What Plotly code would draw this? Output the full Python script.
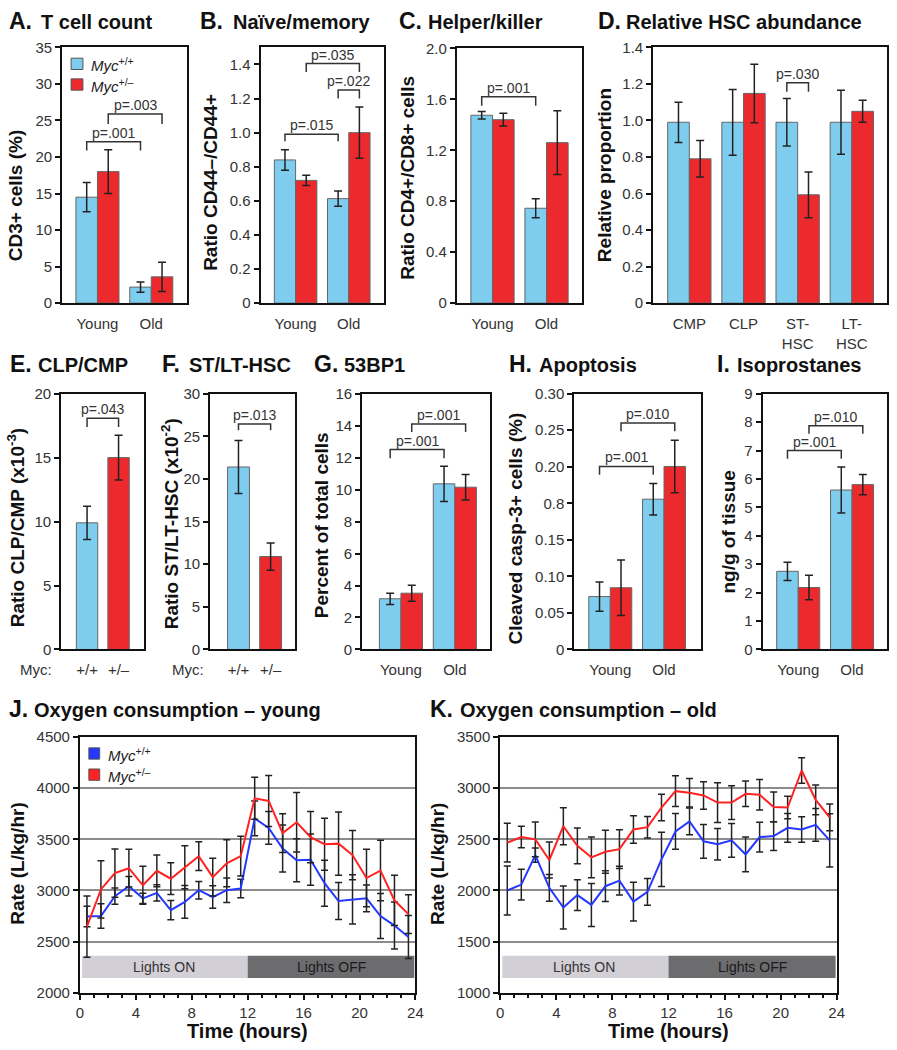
import plotly.graph_objects as go

W, H = 897, 1050
FONT = "Liberation Sans, Arial, sans-serif"
BLUE_BAR = "#7FCDEE"
RED_BAR = "#EC2A2E"
BLUE_LINE = "#2438FF"
RED_LINE = "#FF2222"

# ---------------- data ----------------
age_groups = ["Young", "Old"]
# A. T cell count (CD3+ cells %)
a_wt = [14.5, 2.2]; a_wt_err = [2.0, 0.7]
a_het = [18.0, 3.6]; a_het_err = [3.0, 2.0]
# B. Naive/memory ratio
b_wt = [0.84, 0.613]; b_wt_err = [0.06, 0.045]
b_het = [0.72, 1.00]; b_het_err = [0.03, 0.15]
# C. Helper/killer ratio
c_wt = [1.475, 0.745]; c_wt_err = [0.03, 0.075]
c_het = [1.44, 1.26]; c_het_err = [0.05, 0.25]
# D. Relative HSC abundance
hsc_types = ["CMP", "CLP", "ST-<br>HSC", "LT-<br>HSC"]
d_wt = [0.99, 0.99, 0.99, 0.99]; d_wt_err = [0.11, 0.18, 0.13, 0.175]
d_het = [0.79, 1.148, 0.593, 1.05]; d_het_err = [0.10, 0.16, 0.125, 0.06]
# E. CLP/CMP ratio (x10^-3), F. ST/LT-HSC ratio (x10^-2)
genotypes = ["+/+", "+/–"]
e_vals = [9.9, 15.0]; e_err = [1.3, 1.75]
f_vals = [21.4, 10.9]; f_err = [3.1, 1.6]
# G. 53BP1 (% of total cells)
g_wt = [3.17, 10.36]; g_wt_err = [0.35, 1.1]
g_het = [3.52, 10.15]; g_het_err = [0.5, 0.8]
# H. Apoptosis (axis units, ticks labelled as in the original figure)
h_wt = [0.0724, 0.2056]; h_wt_err = [0.020, 0.0215]
h_het = [0.0845, 0.2504]; h_het_err = [0.038, 0.036]
h_tickvals = [0, 0.05, 0.10, 0.15, 0.20, 0.25, 0.30, 0.35]
h_ticktext = ["0", "0.05", "0.10", "0.15", "0.8", "0.20", "0.25", "0.30"]
# I. Isoprostanes (ng/g of tissue)
i_wt = [2.75, 5.61]; i_wt_err = [0.32, 0.81]
i_het = [2.18, 5.80]; i_het_err = [0.43, 0.36]
# J/K. Oxygen consumption
hours = [0.5, 1.5, 2.5, 3.5, 4.5, 5.5, 6.5, 7.5, 8.5, 9.5, 10.5, 11.5,
         12.5, 13.5, 14.5, 15.5, 16.5, 17.5, 18.5, 19.5, 20.5, 21.5, 22.5, 23.5]
j_wt = [2745, 2750, 2945, 3042, 2923, 2977, 2808, 2888, 3003, 2936, 3003, 3019,
        3705, 3612, 3410, 3295, 3301, 3071, 2897, 2913, 2923, 2750, 2657, 2545]
j_wt_err = [100, 120, 80, 95, 50, 80, 95, 160, 85, 110, 120, 90,
            170, 160, 230, 210, 250, 225, 180, 240, 130, 220, 230, 210]
j_het = [2647, 3010, 3170, 3218, 3051, 3192, 3115, 3228, 3336, 3131, 3266, 3336,
         3901, 3875, 3561, 3667, 3522, 3452, 3458, 3346, 3122, 3195, 2904, 2769]
j_het_err = [300, 280, 235, 185, 185, 155, 155, 210, 140, 185, 230, 195,
             205, 250, 190, 290, 250, 255, 310, 240, 280, 295, 245, 190]
k_wt = [2000, 2058, 2346, 2026, 1833, 1955, 1859, 2042, 2096, 1891, 1987, 2304,
        2577, 2676, 2481, 2452, 2490, 2352, 2522, 2532, 2612, 2596, 2641, 2490]
k_wt_err = [240, 150, 70, 130, 210, 150, 210, 150, 140, 190, 130, 265,
            175, 130, 165, 155, 165, 170, 145, 140, 140, 125, 160, 260]
k_het = [2468, 2522, 2500, 2298, 2628, 2436, 2324, 2378, 2404, 2596, 2619, 2811,
         2971, 2955, 2929, 2859, 2859, 2945, 2936, 2817, 2811, 3173, 2885, 2715]
k_het_err = [190, 105, 170, 175, 180, 175, 200, 210, 190, 135, 105, 130,
             150, 140, 135, 195, 165, 125, 150, 145, 110, 125, 145, 130]

# significance brackets: (bar-from, bar-to, top, leg-end, label)
brackets = {
    "A": [(-0.2, 0.8, 22.1, 20.9, "p=.001"), (0.2, 1.2, 25.9, 24.5, "p=.003")],
    "B": [(-0.2, 0.8, 0.99, 0.95, "p=.015"), (0.8, 1.2, 1.25, 1.20, "p=.022"),
          (0.2, 1.2, 1.405, 1.355, "p=.035")],
    "C": [(-0.2, 0.8, 1.62, 1.55, "p=.001")],
    "D": [(1.8, 2.2, 1.207, 1.157, "p=.030")],
    "E": [(0, 1, 18.08, 17.4, "p=.043")],
    "F": [(0, 1, 26.45, 25.7, "p=.013")],
    "G": [(-0.2, 0.8, 12.5, 11.96, "p=.001"), (0.2, 1.2, 14.1, 13.6, "p=.001")],
    "H": [(-0.2, 0.8, 0.2504, 0.239, "p=.001"), (0.2, 1.2, 0.3097, 0.2985, "p=.010")],
    "I": [(-0.2, 0.8, 7.0, 6.71, "p=.001"), (0.2, 1.2, 7.87, 7.59, "p=.010")],
}

# ---------------- layout geometry (pixels) ----------------
def px(p):
    return p / W

def py(p):
    return 1 - p / H

panels = {
    "A": dict(x=(59, 185), y=(39, 299), xr=[-0.655, 1.655], yr=[0, 35]),
    "B": dict(x=(260, 385), y=(39, 299), xr=[-0.66, 1.66], yr=[0, 1.5]),
    "C": dict(x=(459, 586), y=(40, 299), xr=[-0.66, 1.66], yr=[0, 2.0]),
    "D": dict(x=(658, 895), y=(39, 299), xr=[-0.667, 3.65], yr=[0, 1.4]),
    "E": dict(x=(58, 142), y=(391, 651), xr=[-0.82, 1.81], yr=[0, 20]),
    "F": dict(x=(209, 295), y=(391, 651), xr=[-0.88, 1.76], yr=[0, 30]),
    "G": dict(x=(363, 493), y=(391, 651), xr=[-0.72, 1.66], yr=[0, 16]),
    "H": dict(x=(578, 706), y=(391, 651), xr=[-0.67, 1.68], yr=[0, 0.35]),
    "I": dict(x=(769, 895), y=(391, 651), xr=[-0.66, 1.65], yr=[0, 9]),
    "J": dict(x=(77, 417), y=(740, 1000), xr=[0, 24], yr=[2000, 4500]),
    "K": dict(x=(503, 844), y=(740, 1000), xr=[0, 24], yr=[1000, 3500]),
}
order = list(panels.keys())
ax = {}
for i, k in enumerate(order):
    n = "" if i == 0 else str(i + 1)
    ax[k] = ("x" + n, "y" + n, "xaxis" + n, "yaxis" + n)

fig = go.Figure()
err_style = dict(type="data", color="#222", thickness=1.5, width=4)
bar_line = dict(color="#666", width=1)


def add_pair(k, x, wt, wt_err, het, het_err):
    xa, ya = ax[k][0], ax[k][1]
    fig.add_trace(go.Bar(x=x, y=wt, error_y=dict(array=wt_err, **err_style),
                         marker=dict(color=BLUE_BAR, line=bar_line),
                         xaxis=xa, yaxis=ya, name="Myc+/+", showlegend=False))
    fig.add_trace(go.Bar(x=x, y=het, error_y=dict(array=het_err, **err_style),
                         marker=dict(color=RED_BAR, line=bar_line),
                         xaxis=xa, yaxis=ya, name="Myc+/-", showlegend=False))


add_pair("A", [0, 1], a_wt, a_wt_err, a_het, a_het_err)
add_pair("B", [0, 1], b_wt, b_wt_err, b_het, b_het_err)
add_pair("C", [0, 1], c_wt, c_wt_err, c_het, c_het_err)
add_pair("D", [0, 1, 2, 3], d_wt, d_wt_err, d_het, d_het_err)
add_pair("G", [0, 1], g_wt, g_wt_err, g_het, g_het_err)
add_pair("H", [0, 1], h_wt, h_wt_err, h_het, h_het_err)
add_pair("I", [0, 1], i_wt, i_wt_err, i_het, i_het_err)

for k, vals, errs in (("E", e_vals, e_err), ("F", f_vals, f_err)):
    fig.add_trace(go.Bar(x=[0, 1], y=vals, width=0.68,
                         error_y=dict(array=errs, **err_style),
                         marker=dict(color=[BLUE_BAR, RED_BAR], line=bar_line),
                         xaxis=ax[k][0], yaxis=ax[k][1], showlegend=False))

line_err = dict(type="data", color="#222", thickness=1.5, width=3.5)
for k, wt, wte, het, hete in (("J", j_wt, j_wt_err, j_het, j_het_err),
                              ("K", k_wt, k_wt_err, k_het, k_het_err)):
    fig.add_trace(go.Scatter(x=hours, y=wt, mode="lines",
                             line=dict(color=BLUE_LINE, width=2),
                             error_y=dict(array=wte, **line_err),
                             xaxis=ax[k][0], yaxis=ax[k][1], showlegend=False))
    fig.add_trace(go.Scatter(x=hours, y=het, mode="lines",
                             line=dict(color=RED_LINE, width=2),
                             error_y=dict(array=hete, **line_err),
                             xaxis=ax[k][0], yaxis=ax[k][1], showlegend=False))

# ---------------- axes ----------------
layout = {}
common = dict(showline=True, mirror=True, linewidth=2, linecolor="#111",
              zeroline=False, showgrid=False, fixedrange=True,
              tickfont=dict(family=FONT, size=15, color="#333"))
for k in order:
    p = panels[k]
    xa_name, ya_name = ax[k][2], ax[k][3]
    xd = [px(p["x"][0]), px(p["x"][1])]
    yd = [py(p["y"][1]), py(p["y"][0])]
    xaxis = dict(common, domain=xd, range=p["xr"], anchor=ax[k][1])
    yaxis = dict(common, domain=yd, range=p["yr"], anchor=ax[k][0],
                 ticks="outside", ticklen=5, tickwidth=1.5, tickcolor="#111")
    if k in ("J", "K"):
        xaxis.update(tickvals=[0, 4, 8, 12, 16, 20, 24], ticks="outside", ticklen=5,
                     tickwidth=1.5, tickcolor="#111",
                     minor=dict(dtick=1, ticks="outside", ticklen=3, tickwidth=1.5,
                                tickcolor="#111", showgrid=False))
        yaxis.update(dtick=500, showgrid=True, gridcolor="#8c8c8c", gridwidth=1.5)
    else:
        if k == "D":
            tv, tt = [0, 1, 2, 3], hsc_types
        elif k in ("E", "F"):
            tv, tt = [0, 1], genotypes
        else:
            tv, tt = [0, 1], age_groups
        xaxis.update(tickvals=tv, ticktext=tt, ticks="outside", ticklen=6,
                     tickcolor="rgba(0,0,0,0)")
        if k == "A":
            yaxis.update(dtick=5)
        elif k == "B":
            yaxis.update(tickvals=[0, 0.2, 0.4, 0.6, 0.8, 1.0, 1.2, 1.4],
                         ticktext=["0", "0.2", "0.4", "0.6", "0.8", "1.0", "1.2", "1.4"])
        elif k == "C":
            yaxis.update(tickvals=[0, 0.4, 0.8, 1.2, 1.6, 2.0],
                         ticktext=["0", "0.4", "0.8", "1.2", "1.6", "2.0"])
        elif k == "D":
            yaxis.update(tickvals=[0, 0.2, 0.4, 0.6, 0.8, 1.0, 1.2, 1.4],
                         ticktext=["0", "0.2", "0.4", "0.6", "0.8", "1.0", "1.2", "1.4"])
        elif k in ("E", "F"):
            yaxis.update(dtick=5)
        elif k == "G":
            yaxis.update(dtick=2)
        elif k == "H":
            yaxis.update(tickvals=h_tickvals, ticktext=h_ticktext)
        elif k == "I":
            yaxis.update(dtick=1)
    layout[xa_name] = xaxis
    layout[ya_name] = yaxis

shapes = []
annotations = []

# brackets
for k, lst in brackets.items():
    xa, ya = ax[k][0], ax[k][1]
    for x0, x1, yt, yl, txt in lst:
        shapes.append(dict(type="path", xref=xa, yref=ya,
                           path=f"M{x0},{yl} L{x0},{yt} L{x1},{yt} L{x1},{yl}",
                           line=dict(color="#333", width=1.5)))
        annotations.append(dict(x=(x0 + x1) / 2, y=yt, xref=xa, yref=ya, text=txt,
                                showarrow=False, xanchor="center", yanchor="middle", yshift=9,
                                font=dict(family=FONT, size=14, color="#333")))

# lights bars
for k, lo, hi in (("J", 2145, 2362), ("K", 1145, 1362)):
    xa, ya = ax[k][0], ax[k][1]
    shapes.append(dict(type="rect", xref=xa, yref=ya, x0=0.15, x1=12, y0=lo, y1=hi,
                       fillcolor="#D3CFD6", line=dict(width=0), layer="below"))
    shapes.append(dict(type="rect", xref=xa, yref=ya, x0=12, x1=23.92, y0=lo, y1=hi,
                       fillcolor="#6C6C6E", line=dict(width=0), layer="below"))
    annotations.append(dict(x=6, y=(lo + hi) / 2, xref=xa, yref=ya, text="Lights ON",
                            showarrow=False, xanchor="center", yanchor="middle",
                            font=dict(family=FONT, size=14, color="#333")))
    annotations.append(dict(x=18, y=(lo + hi) / 2, xref=xa, yref=ya, text="Lights OFF",
                            showarrow=False, xanchor="center", yanchor="middle",
                            font=dict(family=FONT, size=14, color="#1a1a1a")))

# panel titles
titles = [
    ("A.", 3, "T cell count", 35, 12), ("B.", 197, "Naïve/memory", 230, 12),
    ("C.", 398, "Helper/killer", 428, 12), ("D.", 600, "Relative HSC abundance", 628, 12),
    ("E.", 4, "CLP/CMP", 32, 361), ("F.", 158, "ST/LT-HSC", 185, 361),
    ("G.", 312, "53BP1", 343, 361), ("H.", 510, "Apoptosis", 540, 361),
    ("I.", 721, "Isoprostanes", 741, 361),
    ("J.", 3, "Oxygen consumption – young", 28, 712),
    ("K.", 430, "Oxygen consumption – old", 460, 712),
]
for letter, lx, text, tx, ty in titles:
    annotations.append(dict(x=px(lx), y=py(ty), xref="paper", yref="paper",
                            text=f"<b>{letter}</b>", showarrow=False, xanchor="left",
                            yanchor="middle", font=dict(family=FONT, size=23, color="#111")))
    annotations.append(dict(x=px(tx), y=py(ty + 1), xref="paper", yref="paper",
                            text=f"<b>{text}</b>", showarrow=False, xanchor="left",
                            yanchor="middle", font=dict(family=FONT, size=20, color="#111")))

# y-axis titles
ytitles = [
    ("CD3+ cells (%)", 12.5, 190), ("Ratio CD44–/CD44+", 208.5, 176),
    ("Ratio CD4+/CD8+ cells", 409, 172), ("Relative proportion", 608, 169),
    ("Ratio CLP/CMP (x10<sup>-3</sup>)", 13, 527),
    ("Ratio ST/LT-HSC (x10<sup>-2</sup>)", 168, 523),
    ("Percent of total cells", 322, 525), ("Cleaved casp-3+ cells (%)", 518, 528),
    ("ng/g of tissue", 734, 531), ("Rate (L/kg/hr)", 14, 869), ("Rate (L/kg/hr)", 440, 869),
]
for text, cx, cy in ytitles:
    annotations.append(dict(x=px(cx), y=py(cy), xref="paper", yref="paper",
                            text=f"<b>{text}</b>", showarrow=False, textangle=-90,
                            xanchor="center", yanchor="middle",
                            font=dict(family=FONT, size=19, color="#111")))

# x-axis titles and extra labels
for cx in (247, 674):
    annotations.append(dict(x=px(cx), y=py(1039), xref="paper", yref="paper",
                            text="<b>Time (hours)</b>", showarrow=False,
                            xanchor="center", yanchor="middle", borderpad=0,
                            font=dict(family=FONT, size=20, color="#111")))
for cx in (32, 186):
    annotations.append(dict(x=px(cx), y=py(671), xref="paper", yref="paper",
                            text="Myc:", showarrow=False, xanchor="center", yanchor="middle",
                            font=dict(family=FONT, size=15, color="#333")))

# legends (panel A and J)
legend_items = [
    (68, 80, 50, 61.5, BLUE_BAR, "<i>Myc</i><sup>+/+</sup>", 86),
    (68, 80, 71, 82.5, RED_BAR, "<i>Myc</i><sup>+/–</sup>", 86),
    (86, 97, 751, 762.5, BLUE_LINE, "<i>Myc</i><sup>+/+</sup>", 103),
    (86, 97, 772.5, 784, RED_LINE, "<i>Myc</i><sup>+/–</sup>", 103),
]
for x0, x1, y0, y1, col, txt, tx in legend_items:
    shapes.append(dict(type="rect", xref="paper", yref="paper",
                       x0=px(x0), x1=px(x1), y0=py(y1), y1=py(y0),
                       fillcolor=col, line=dict(color="#555", width=1)))
    annotations.append(dict(x=px(tx), y=py((y0 + y1) / 2 + 1), xref="paper", yref="paper",
                            text=txt, showarrow=False, xanchor="left", yanchor="middle",
                            font=dict(family=FONT, size=15, color="#222")))

fig.update_layout(
    width=W, height=H, margin=dict(l=0, r=0, t=0, b=0),
    paper_bgcolor="white", plot_bgcolor="white",
    barmode="group", bargap=0.2, bargroupgap=0,
    showlegend=False, shapes=shapes, annotations=annotations,
    font=dict(family=FONT, color="#222"),
    **layout,
)
fig.write_html("out.html", config={"displayModeBar": False},
               post_script="document.body.style.margin='0';document.body.style.overflow='hidden';")
